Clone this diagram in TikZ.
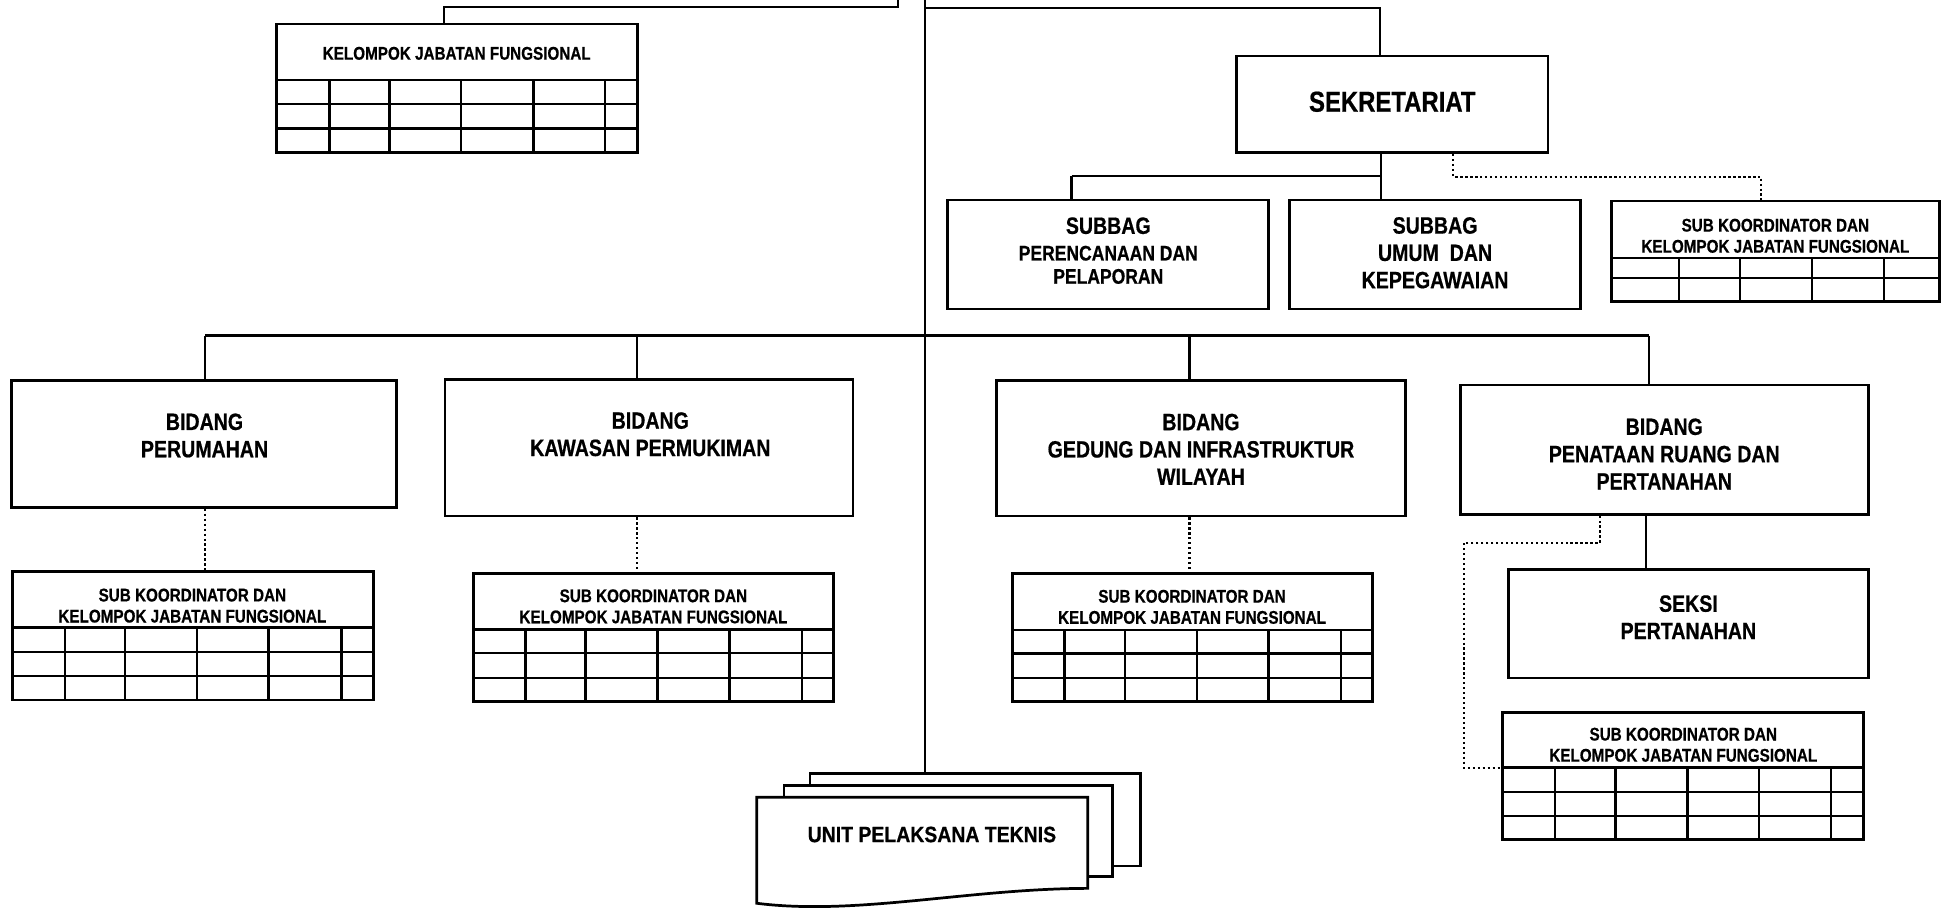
\documentclass[tikz,border=0pt]{standalone}
\usepackage{fontspec}
\setmainfont{Liberation Sans}[FakeStretch=0.83, FakeBold=0.6]
\newfontfamily\uptfont{Liberation Sans}[FakeStretch=0.88, FakeBold=0.6]
\usetikzlibrary{fit}

% box with a header and a small grid below it
% #1 name, #2 left, #3 top, #4 right, #5 bottom, #6 header bottom, #7 row lines, #8 column lines
\newcommand{\gridtable}[8]{%
  \node[box, fit={(#2,#3) (#4,#5)}] (#1) {};
  \foreach \yy in {#6,#7} \draw[gridline] (#2,\yy) -- (#4,\yy);
  \foreach \xx in {#8} \draw[gridline] (\xx,#6) -- (\xx,#5);
}

\begin{document}
\begin{tikzpicture}[x=0.5pt,y=-0.5pt,
  box/.style={draw, line width=1.1pt, inner sep=0pt, fill=white},
  link/.style={line width=0.9pt},
  dotlink/.style={line width=0.9pt, dash pattern=on 0.9pt off 1.1pt},
  gridline/.style={line width=1pt},
  lbl/.style={align=center, inner sep=0pt, font=\bfseries\fontsize{9.5}{11}\selectfont},
  biglbl/.style={lbl, font=\bfseries\fontsize{11.6}{14}\selectfont},
  midlbl/.style={lbl, font=\bfseries\fontsize{8.5}{9.35}\selectfont},
  smalllbl/.style={lbl, font=\bfseries\fontsize{7.4}{8.5}\selectfont},
]
\fill[white] (0,0) rectangle (1568,732);
\useasboundingbox (0,0) rectangle (1568,732);

% ---------- upper part ----------
\gridtable{kjf}{222.7}{19.4}{513.6}{123}{64.5}{83.8,103.5}{265.3,313.9,371.5,429.7,487.6}
\node[smalllbl] (kjft) at (368,43) {KELOMPOK JABATAN FUNGSIONAL};

\node[box, fit={(996.2,45.1) (1247.4,123)}] (sek) {};
\node[biglbl] (sekt) at (1121.8,82) {SEKRETARIAT};

\node[box, fit={(763.7,161.2) (1022.1,249)}] (sub1) {};
\node[lbl] (sub1a) at (893,181.9) {SUBBAG};
\node[midlbl] (sub1b) at (893,213.4) {PERENCANAAN DAN\\PELAPORAN};

\node[box, fit={(1039.2,161.2) (1273.4,249)}] (sub2) {};
\node[lbl] (sub2t) at (1156.3,203.7) {SUBBAG\\UMUM\ \ DAN\\KEPEGAWAIAN};

\gridtable{skt}{1298.3}{162}{1562.8}{243.1}{207.7}{223.8}{1353,1402,1460.2,1518}
\node[smalllbl] (sktt) at (1430.5,190) {SUB KOORDINATOR DAN\\KELOMPOK JABATAN FUNGSIONAL};

% ---------- bidang row ----------
\node[box, fit={(9.3,306.3) (319.2,408.8)}] (per) {};
\node[lbl] (pert) at (164.8,350.9) {BIDANG\\PERUMAHAN};

\node[box, fit={(358.5,305.7) (687.4,415.8)}] (kaw) {};
\node[lbl] (kawt) at (524,349.9) {BIDANG\\KAWASAN PERMUKIMAN};

\node[box, fit={(803.1,306.8) (1132.3,415.8)}] (ged) {};
\node[lbl] (gedt) at (967.7,362) {BIDANG\\GEDUNG DAN INFRASTRUKTUR\\WILAYAH};

\node[box, fit={(1177,310.3) (1505.8,414.3)}] (pen) {};
\node[lbl] (pent) at (1341,365.8) {BIDANG\\PENATAAN RUANG DAN\\PERTANAHAN};

\node[box, fit={(1215.6,459) (1505.6,546.4)}] (sek2) {};
\node[lbl] (sek2t) at (1360.4,497.3) {SEKSI\\PERTANAHAN};

% ---------- sub koordinator tables ----------
\gridtable{sk1}{10.2}{460.7}{300.7}{564.1}{505.6}{525.2,544.8}{52.3,100.8,158.7,216.5,275.3}
\node[smalllbl] (sk1t) at (155,488) {SUB KOORDINATOR DAN\\KELOMPOK JABATAN FUNGSIONAL};

\gridtable{sk2}{381.7}{462}{671.8}{565.5}{507.2}{526,546.2}{423.3,471.9,529.7,587.6,646.3}
\node[smalllbl] (sk2t) at (526.5,488.6) {SUB KOORDINATOR DAN\\KELOMPOK JABATAN FUNGSIONAL};

\gridtable{sk3}{815.6}{462}{1106.1}{565.5}{507.7}{526.5,546.1}{857.8,906.4,964.6,1022.2,1080.7}
\node[smalllbl] (sk3t) at (960.5,489) {SUB KOORDINATOR DAN\\KELOMPOK JABATAN FUNGSIONAL};

\gridtable{sk4}{1210.9}{574}{1501.5}{676.3}{618.6}{638,657.5}{1253,1301.5,1359.6,1417.4,1475.4}
\node[smalllbl] (sk4t) at (1356.3,600.1) {SUB KOORDINATOR DAN\\KELOMPOK JABATAN FUNGSIONAL};

% ---------- unit pelaksana teknis (stacked documents) ----------
\node[box, fit={(652.7,623.2) (918.7,697.8)}] (upt3) {};
\node[box, fit={(631.8,633.1) (896.3,706.4)}] (upt2) {};
\draw[line width=1.1pt, fill=white] (609.7,642.4) -- (876.4,642.4) -- (876.4,715.8)
  .. controls (780,716) and (690,738) .. (609.7,727.8) -- cycle;
\node[inner sep=0pt, font=\uptfont\bfseries\fontsize{8.9}{10}\selectfont] (upt) at (750.9,672.4) {UNIT PELAKSANA TEKNIS};

% ---------- connectors ----------
\coordinate (top) at (745.4,0);
\coordinate (tl) at (723.3,0);
\coordinate (kjfin) at (357.9,5.9);
\coordinate (sj) at (745.4,6.7);
\coordinate (sekin) at (1112,6.7);
\draw[link] (top) -- (top |- upt3.north);
\draw[link] (tl) |- (kjfin) -- (kjfin |- kjf.north);
\draw[link] (sj) -- (sekin) -- (sekin |- sek.north);

\coordinate (sb) at (1112.5,141.8);
\coordinate (sa) at (863.4,141.8);
\draw[link] (sek.south -| sb) -- (sb |- sub2.north);
\draw[link] (sa) -- (sb);
\draw[link] (sa) -- (sa |- sub1.north);

\coordinate (d1) at (1171,142.4);
\coordinate (d2) at (1419.2,142.4);
\draw[dotlink] (sek.south -| d1) -- (d1) -- (d2) -- (d2 |- skt.north);

\coordinate (ml) at (165.2,270.5);
\coordinate (mk) at (513,270.5);
\coordinate (mg) at (958.5,270.5);
\coordinate (mr) at (1328.4,270.5);
\draw[link, line width=1.1pt] (ml) -- (mr);
\draw[link] (ml) -- (ml |- per.north);
\draw[link] (mk) -- (mk |- kaw.north);
\draw[link] (mg) -- (mg |- ged.north);
\draw[link] (mr) -- (mr |- pen.north);

\draw[dotlink] (per.south -| ml) -- (ml |- sk1.north);
\draw[dotlink] (kaw.south -| mk) -- (mk |- sk2.north);
\draw[dotlink] (ged.south -| mg) -- (mg |- sk3.north);

\coordinate (ps) at (1326.5,0);
\draw[link] (pen.south -| ps) -- (ps |- sek2.north);

\coordinate (pd1) at (1289.3,437.3);
\coordinate (pd2) at (1179.6,618.6);
\draw[dotlink] (pen.south -| pd1) -- (pd1) -| (pd2) -- (pd2 -| sk4.west);
\end{tikzpicture}
\end{document}
